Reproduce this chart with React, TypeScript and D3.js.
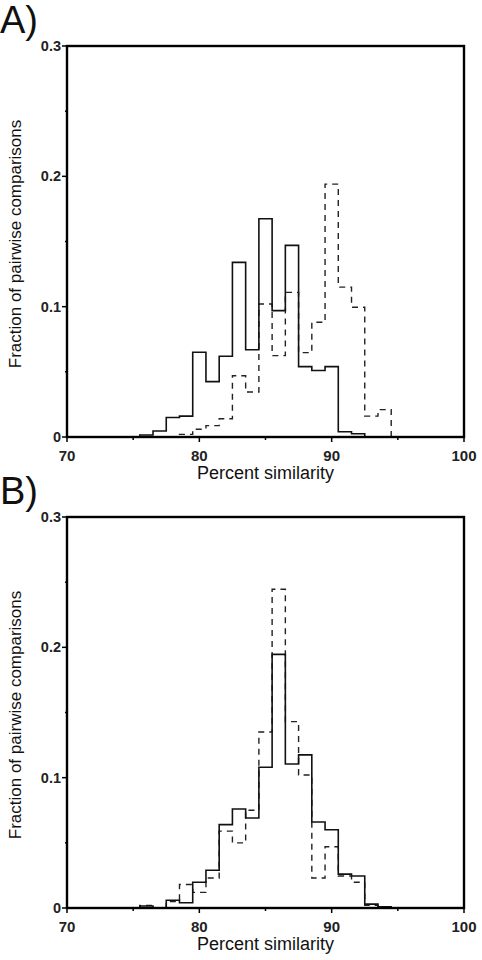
import React, { useEffect, useRef } from 'react';
import * as d3 from 'd3';

// bin centres (percent similarity), 1% wide bins
const bins = [75, 76, 77, 78, 79, 80, 81, 82, 83, 84, 85, 86, 87, 88, 89, 90, 91, 92, 93, 94, 95];

// panel A
const solidA = [0, 0.0015, 0.0046, 0.015, 0.016, 0.065, 0.0425, 0.062, 0.134, 0.067, 0.1675, 0.097, 0.147, 0.054, 0.051, 0.054, 0.004, 0.0025, 0, 0, 0];
const dashedA = [0, 0, 0, 0, 0.002, 0.006, 0.0087, 0.014, 0.047, 0.0345, 0.102, 0.0624, 0.111, 0.0647, 0.088, 0.194, 0.115, 0.0995, 0.016, 0.021, 0];

// panel B
const solidB = [0, 0.0015, 0, 0.006, 0.004, 0.0197, 0.029, 0.064, 0.076, 0.069, 0.108, 0.1946, 0.1105, 0.1175, 0.066, 0.06, 0.026, 0.0246, 0.003, 0.001, 0];
const dashedB = [0, 0.002, 0, 0.005, 0.018, 0.012, 0.023, 0.059, 0.05, 0.075, 0.135, 0.2446, 0.143, 0.102, 0.023, 0.047, 0.0246, 0.0197, 0.002, 0.001, 0];

const xTicks = [70, 80, 90, 100];
const xMinor = [75, 85, 95];
const yTicks = [0, 0.1, 0.2, 0.3];
const yMinor = [0.05, 0.15, 0.25];

const panels = [
  { label: 'A)', top: 46, solid: solidA, dashed: dashedA },
  { label: 'B)', top: 517, solid: solidB, dashed: dashedB },
];

const App = () => {
  const ref = useRef<SVGSVGElement>(null);

  useEffect(() => {
    const svg = d3.select(ref.current);
    svg.selectAll('*').remove();

    const left = 67, right = 464, h = 391;
    const font = 'Liberation Sans, Arial, Helvetica, sans-serif';
    const x = d3.scaleLinear().domain([70, 100]).range([left, right]);

    const stepPts = (vals: number[]) => {
      const pts: [number, number][] = [[bins[0] - 0.5, 0]];
      bins.forEach((b, i) => pts.push([b - 0.5, vals[i]]));
      pts.push([bins[bins.length - 1] + 0.5, 0]);
      return pts;
    };

    panels.forEach(p => {
      const y = d3.scaleLinear().domain([0, 0.3]).range([p.top + h, p.top]);
      const g = svg.append('g');

      const line = d3.line<[number, number]>()
        .x(d => x(d[0]))
        .y(d => y(d[1]))
        .curve(d3.curveStepAfter);

      // dashed series
      g.append('path')
        .attr('d', line(stepPts(p.dashed)))
        .attr('fill', 'none')
        .attr('stroke', '#222')
        .attr('stroke-width', 1.4)
        .attr('stroke-dasharray', '6,5');

      // solid series
      g.append('path')
        .attr('d', line(stepPts(p.solid)))
        .attr('fill', 'none')
        .attr('stroke', '#111')
        .attr('stroke-width', 1.6);

      // frame
      g.append('rect')
        .attr('x', left).attr('y', p.top)
        .attr('width', right - left).attr('height', h)
        .attr('fill', 'none').attr('stroke', '#000').attr('stroke-width', 2.4);

      // y ticks
      g.selectAll('.yt').data(yTicks).join('line')
        .attr('x1', left - 5).attr('x2', left)
        .attr('y1', d => y(d)).attr('y2', d => y(d))
        .attr('stroke', '#000').attr('stroke-width', 1.5);
      g.selectAll('.ym').data(yMinor).join('line')
        .attr('x1', left - 2).attr('x2', left)
        .attr('y1', d => y(d)).attr('y2', d => y(d))
        .attr('stroke', '#000').attr('stroke-width', 1.5);
      g.selectAll('.yl').data(yTicks).join('text')
        .attr('x', left - 6).attr('y', d => y(d))
        .attr('dy', '0.35em').attr('text-anchor', 'end')
        .attr('font-family', font).attr('font-size', 14.5).attr('font-weight', 'bold')
        .attr('fill', '#222')
        .text(d => (d === 0 ? '0' : d3.format('.1f')(d)));

      // x ticks
      g.selectAll('.xt').data(xTicks).join('line')
        .attr('x1', d => x(d)).attr('x2', d => x(d))
        .attr('y1', p.top + h).attr('y2', p.top + h + 5)
        .attr('stroke', '#000').attr('stroke-width', 1.5);
      g.selectAll('.xm').data(xMinor).join('line')
        .attr('x1', d => x(d)).attr('x2', d => x(d))
        .attr('y1', p.top + h).attr('y2', p.top + h + 3)
        .attr('stroke', '#000').attr('stroke-width', 1.5);
      g.selectAll('.xl').data(xTicks).join('text')
        .attr('x', d => x(d)).attr('y', p.top + h + 24)
        .attr('text-anchor', 'middle')
        .attr('font-family', font).attr('font-size', 15).attr('font-weight', 'bold')
        .attr('fill', '#222')
        .text(d => d);

      // axis titles
      g.append('text')
        .attr('x', (left + right) / 2).attr('y', p.top + h + 42)
        .attr('text-anchor', 'middle')
        .attr('font-family', font).attr('font-size', 18)
        .attr('fill', '#111')
        .text('Percent similarity');
      g.append('text')
        .attr('transform', `translate(21, ${p.top + 198}) rotate(-90)`)
        .attr('text-anchor', 'middle')
        .attr('font-family', font).attr('font-size', 17)
        .attr('fill', '#111')
        .text('Fraction of pairwise comparisons');

      // panel letter
      g.append('text')
        .attr('x', 0).attr('y', p.top - 13)
        .attr('font-family', font).attr('font-size', 38)
        .attr('fill', '#111')
        .text(p.label);
    });
  }, []);

  return (
    <svg ref={ref} width={482} height={960}
      style={{ position: 'absolute', left: 0, top: 0, background: '#fff' }} />
  );
};

export default App;
